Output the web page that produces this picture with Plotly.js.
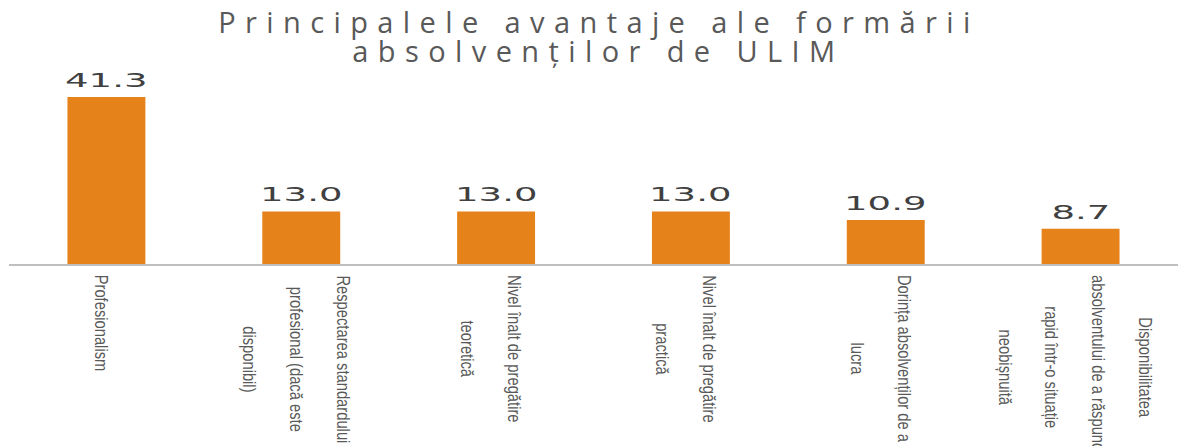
<!DOCTYPE html>
<html><head><meta charset="utf-8">
<script src="https://cdn.plot.ly/plotly-3.0.1.min.js"></script>
<style>
html,body{margin:0;padding:0;background:#fff;}
#chart{width:1180px;height:446px;}
.gtitle{letter-spacing:9.4px;}
</style></head><body><div id="chart"></div>
<script>
const categories = [
  "Profesionalism",
  "Respectarea standardului profesional (dacă este disponibil)",
  "Nivel înalt de pregătire teoretică",
  "Nivel înalt de pregătire practică",
  "Dorința absolvenților de a lucra",
  "Disponibilitatea absolventului de a răspunde rapid într-o situație neobișnuită"
];
const values = [41.3, 13.0, 13.0, 13.0, 10.9, 8.7];
const labelLines = [
  ["Profesionalism"],
  ["Respectarea standardului", "profesional (dacă este", "disponibil)"],
  ["Nivel înalt de pregătire", "teoretică"],
  ["Nivel înalt de pregătire", "practică"],
  ["Dorința absolvenților de a", "lucra"],
  ["Disponibilitatea", "absolventului de a răspunde", "rapid într-o situație", "neobișnuită"]
];
const titleLines = ["Principalele avantaje ale formării", "absolvenților de ULIM"];

const barColor = "#E5821A";
const annotations = [];
// value labels
categories.forEach((c, i) => {
  annotations.push({
    x: c, y: values[i], xref: "x", yref: "y",
    text: values[i].toFixed(1), showarrow: false,
    yanchor: "bottom", yshift: 3,
    font: {family: "DejaVu Sans", size: 20, color: "#404040"}
  });
});
// category labels (rotated)
const labelStart = annotations.length;
categories.forEach((c, i) => {
  annotations.push({
    x: c, y: 0, xref: "x", yref: "paper",
    text: labelLines[i].join("<br><br>"), showarrow: false,
    textangle: 90, align: "center",
    yanchor: "top", xanchor: "center", yshift: -9, xshift: -5,
    font: {family: "Liberation Sans", size: 18, color: "#595959"}
  });
});
// second title line
const titleIdx = annotations.length;
annotations.push({
  x: 0.5039, y: 1, xref: "paper", yref: "paper",
  text: titleLines[1], showarrow: false,
  yanchor: "bottom", xanchor: "center", yshift: 10,
  font: {family: "Open Sans", size: 29, color: "#595959"}
});

const data = [{
  type: "bar",
  x: categories,
  y: values,
  width: 0.4,
  marker: {color: barColor},
  hoverinfo: "x+y"
}];

const layout = {
  width: 1180, height: 446,
  margin: {l: 8.5, r: 1.5, t: 82, b: 182},
  paper_bgcolor: "#ffffff", plot_bgcolor: "#ffffff",
  title: {
    text: titleLines[0],
    font: {family: "Open Sans", size: 29, color: "#595959"},
    x: 0.5076, xref: "container", xanchor: "center",
    y: 0.948, yref: "container", yanchor: "middle"
  },
  xaxis: {
    type: "category", range: [-0.5, 5.5],
    showline: true, linecolor: "#BFBFBF", linewidth: 1.5,
    ticks: "", showticklabels: false, showgrid: false, zeroline: false, fixedrange: true
  },
  yaxis: {
    range: [0, 45], visible: false, showgrid: false, zeroline: false, fixedrange: true
  },
  showlegend: false,
  annotations: annotations
};

Plotly.newPlot("chart", data, layout, {displayModeBar: false, staticPlot: true}).then(gd => {
  gd.querySelectorAll("g.annotation").forEach(g => {
    const idx = +g.getAttribute("data-index");
    const t = g.querySelector("text.annotation-text");
    if (!t) return;
    if (idx < labelStart) {
      t.style.transformBox = "fill-box";
      t.style.transformOrigin = "center";
      t.style.transform = "scaleX(1.85)";
    } else if (idx < titleIdx) {
      t.style.transformBox = "fill-box";
      t.style.transformOrigin = "left center";
      t.style.transform = "scaleX(0.82)";
    } else if (idx === titleIdx) {
      t.style.letterSpacing = "9.4px";
    }
  });
});
</script></body></html>
